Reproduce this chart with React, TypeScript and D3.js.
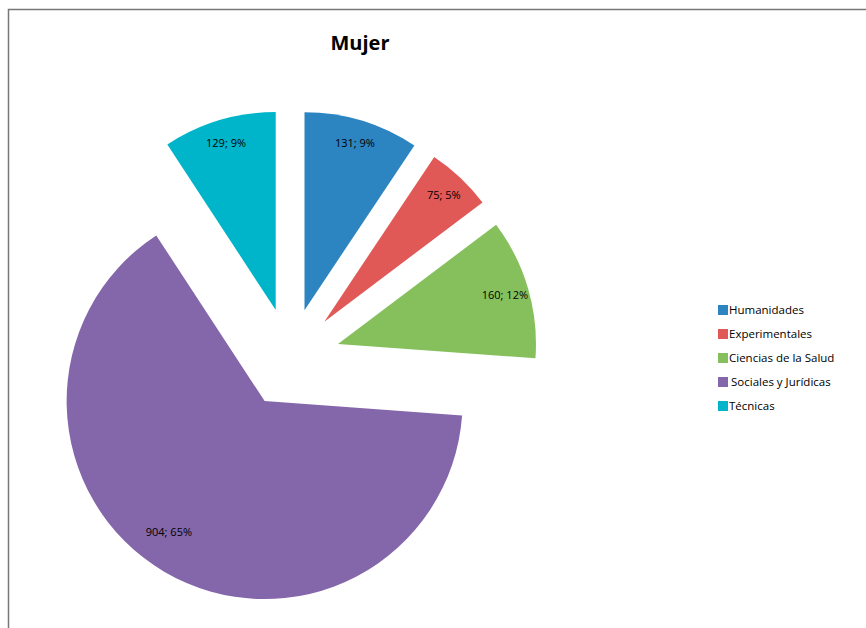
import { useEffect, useRef } from "react";
import * as d3 from "d3";

const categories = ["Humanidades", "Experimentales", "Ciencias de la Salud", "Sociales y Jurídicas", "Técnicas"];
const values = [131, 75, 160, 904, 129];
const percentLabels = ["9%", "5%", "12%", "65%", "9%"];
const colors = ["#2c84c0", "#e05956", "#86c05d", "#8466aa", "#00b5c9"];

type Slice = d3.PieArcDatum<number>;

export default function App() {
  const ref = useRef<SVGSVGElement>(null);

  useEffect(() => {
    if (!ref.current) return;
    const width = 866;
    const height = 628;
    const font = "'Open Sans', 'Noto Sans', sans-serif";

    const svg = d3.select(ref.current);
    svg.selectAll("*").remove();
    svg.attr("width", width).attr("height", height);

    // chart frame (runs off the page on right/bottom)
    svg
      .append("path")
      .attr("d", "M8.5,640 L8.5,9.5 L880,9.5")
      .attr("fill", "none")
      .attr("stroke", "#777")
      .attr("stroke-width", 1.5);

    svg
      .append("text")
      .attr("x", 360)
      .attr("y", 50)
      .attr("text-anchor", "middle")
      .attr("font-family", font)
      .attr("font-weight", "bold")
      .attr("font-size", 20)
      .attr("fill", "#000")
      .text("Mujer");

    const cx = 290;
    const cy = 358;
    const r = 198;
    const explode = 50;

    const pie = d3.pie<number>().sort(null).value((d) => d);
    const arcs = pie(values);
    const arc = d3.arc<Slice>().innerRadius(0).outerRadius(r);

    const offset = (d: Slice, dist: number, shift = 0) => {
      const a = (d.startAngle + d.endAngle) / 2 + shift;
      return [Math.sin(a) * dist, -Math.cos(a) * dist];
    };

    // label placement: big slice label sits a bit off its bisector (best fit)
    const labelPos = (d: Slice) => (d.index === 3 ? offset(d, 162, 0.1) : offset(d, 174));

    const g = svg.append("g").attr("transform", `translate(${cx},${cy})`);

    const slices = g
      .selectAll("g.slice")
      .data(arcs)
      .join("g")
      .attr("class", "slice")
      .attr("transform", (d) => {
        const [dx, dy] = offset(d, explode);
        return `translate(${dx},${dy})`;
      });

    slices
      .append("path")
      .attr("d", arc)
      .attr("fill", (_, i) => colors[i]);

    slices
      .append("text")
      .attr("x", (d) => labelPos(d)[0])
      .attr("y", (d) => labelPos(d)[1])
      .attr("dy", "0.35em")
      .attr("text-anchor", "middle")
      .attr("font-family", font)
      .attr("font-size", 11)
      .attr("fill", "#000")
      .text((d, i) => `${d.data}; ${percentLabels[i]}`);

    const legend = svg
      .append("g")
      .attr("transform", "translate(718,310)");

    const item = legend
      .selectAll("g")
      .data(categories)
      .join("g")
      .attr("transform", (_, i) => `translate(0,${i * 24})`);

    item
      .append("rect")
      .attr("x", 0)
      .attr("y", -5)
      .attr("width", 10)
      .attr("height", 10)
      .attr("fill", (_, i) => colors[i]);

    item
      .append("text")
      .attr("x", (_, i) => (i === 3 ? 13 : 11))
      .attr("dy", "0.35em")
      .attr("font-family", font)
      .attr("font-size", 11.5)
      .attr("fill", "#000")
      .text((d) => d);
  }, []);

  return <svg ref={ref} style={{ position: "absolute", left: 0, top: 0 }} />;
}
